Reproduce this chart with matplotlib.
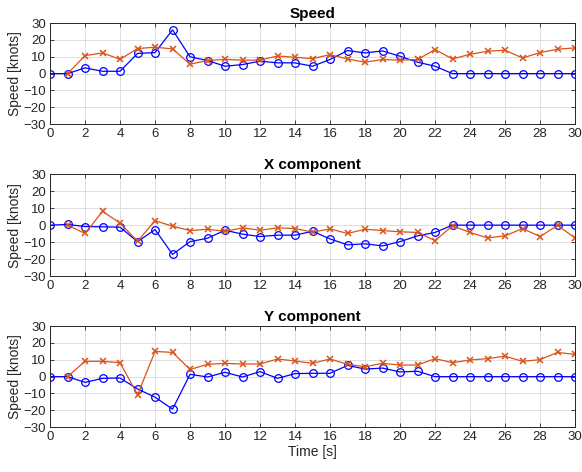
import numpy as np
import matplotlib.pyplot as plt

plt.rcParams['font.family'] = ['Liberation Sans', 'DejaVu Sans']

t_meas = np.arange(0, 31)
t_est = np.arange(1, 31)

speed_meas = [0, 0, 3.4, 1.4, 1.4, 12, 12.5, 26, 10, 7.8, 4.4, 5.4, 7.4, 6.4, 6.4,
              4.4, 8.4, 13.7, 12.3, 13.5, 10.3, 6.8, 4.4, 0, 0, 0, 0, 0, 0, 0, 0]
speed_est = [0, 10.7, 12.3, 8.5, 14.9, 15.7, 14.7, 5.6, 7.8, 8.5, 8, 8, 10.5, 9.7,
             8.9, 11.3, 8.7, 6.8, 8.4, 8, 8.4, 14.3, 8.7, 11.5, 13.3, 13.9, 9.3, 12.5, 14.5, 15.3]

x_meas = [0, 0.4, -0.8, -1, -1.2, -9.7, -2.6, -17.2, -9.7, -7.7, -3, -5.3, -6.7, -5.9, -5.9,
          -3.6, -8.1, -11.6, -11, -12.2, -9.7, -6.3, -4.3, 0, 0, 0, 0, 0, 0, 0, 0]
x_est = [0, -4.9, 8.1, 1.2, -9.5, 2.6, -0.6, -3.2, -2.4, -3.6, -1.6, -3, -1.6, -2,
         -4.1, -2.2, -4.9, -2.4, -3.2, -3.9, -4.3, -9.1, -0.4, -4.3, -7.5, -6.3, -2, -6.7, -0.2, -7.5]

y_meas = [0, 0, -3.4, -1, -0.8, -7.3, -12.2, -19.3, 1.4, -0.2, 2.6, -0.2, 3, -1, 1.8,
          2, 2, 6.7, 4.5, 5.1, 2.8, 3.2, 0, 0, 0, 0, 0, 0, 0, 0, 0]
y_est = [0, 9.1, 9.1, 8.3, -10.8, 15, 14.4, 4.3, 7.3, 7.9, 7.5, 7.5, 10.5, 9.3,
         7.9, 10.5, 7.3, 5.9, 7.9, 6.9, 6.9, 10.7, 8.3, 9.9, 10.7, 12.2, 9.1, 10.1, 14.4, 13.2]

titles = ['Speed', 'X component', 'Y component']
series = [(speed_meas, speed_est), (x_meas, x_est), (y_meas, y_est)]

blue = (0, 0, 1)
orange = (0.85, 0.325, 0.098)
dark = (0.15, 0.15, 0.15)

fig = plt.figure(figsize=(5.82, 4.72), dpi=100)
boxes = [[0.086, 0.737, 0.902, 0.214],
         [0.086, 0.415, 0.902, 0.216],
         [0.086, 0.095, 0.902, 0.214]]

for i, (box, title, (meas, est)) in enumerate(zip(boxes, titles, series)):
    ax = fig.add_axes(box)
    ax.plot(t_meas, meas, '-o', color=blue, lw=0.9, ms=5.5, mfc='none', mew=0.9)
    ax.plot(t_est, est, '-x', color=orange, lw=0.9, ms=4, mew=1.1)
    ax.set_xlim(0, 30)
    ax.set_ylim(-30, 30)
    ax.set_xticks(np.arange(0, 31, 2))
    ax.set_yticks(np.arange(-30, 31, 10))
    ax.grid(True, color=(0.87, 0.87, 0.87), lw=0.7)
    ax.set_axisbelow(True)
    ax.tick_params(direction='in', top=True, right=True, length=3, labelsize=9.5,
                   colors=dark, width=0.6, pad=3)
    for s in ax.spines.values():
        s.set_color(dark)
        s.set_linewidth(0.7)
    ax.set_title(title, fontsize=11, fontweight='bold', pad=4)
    ax.set_ylabel('Speed [knots]', fontsize=10, color=dark, labelpad=1)
    if i == 2:
        ax.set_xlabel('Time [s]', fontsize=10, color=dark, labelpad=1)

fig.savefig('out.png', dpi=100)
